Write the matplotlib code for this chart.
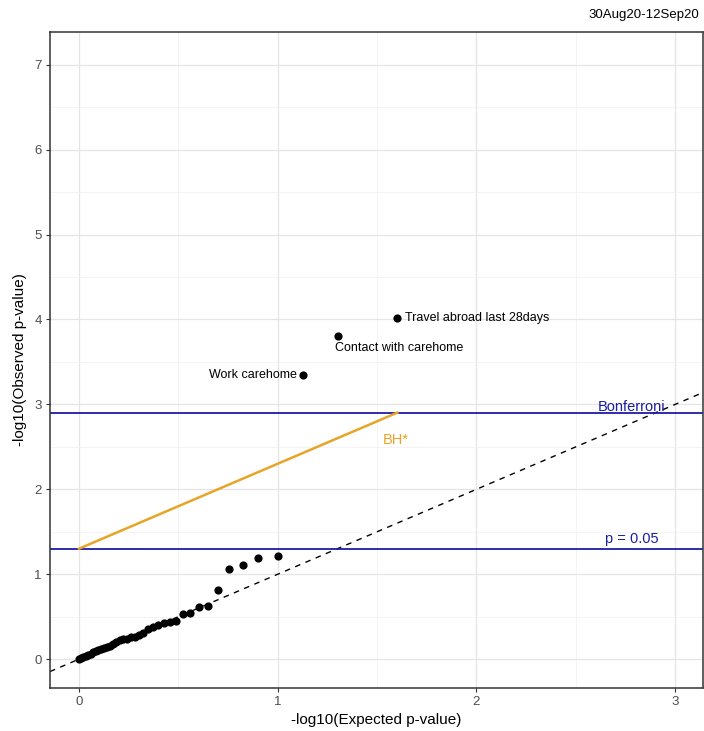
import numpy as np
import matplotlib.pyplot as plt

plt.rcParams['font.family'] = ['Liberation Sans', 'DejaVu Sans']

# observed -log10(p), sorted from largest to smallest (40 tests)
observed = [4.02, 3.80, 3.35, 1.21, 1.19, 1.11, 1.06, 0.82, 0.62, 0.61,
            0.54, 0.53, 0.45, 0.44, 0.43, 0.40, 0.38, 0.35, 0.31, 0.28,
            0.26, 0.26, 0.24, 0.235, 0.23, 0.20, 0.18, 0.155, 0.14, 0.13,
            0.12, 0.11, 0.10, 0.08, 0.06, 0.05, 0.04, 0.02, 0.01, 0.0]
point_labels = ["Travel abroad last 28days", "Contact with carehome", "Work carehome"]
period = "30Aug20-12Sep20"
alpha = 0.05

n = len(observed)
rank = np.arange(1, n + 1)
expected = -np.log10(rank / n)
bonf = -np.log10(alpha / n)
p05 = -np.log10(alpha)

blue = "#1c1ca6"
orange = "#e8a427"

fig = plt.figure(figsize=(7.04, 7.31), dpi=100)
ax = fig.add_axes([0.071, 0.0588, 0.9276, 0.8974])

ax.set_xlim(-0.146, 3.14)
ax.set_ylim(-0.34, 7.385)
ax.set_xticks([0, 1, 2, 3])
ax.set_yticks(range(0, 8))
ax.set_xticks(np.arange(0.5, 3.1, 1.0), minor=True)
ax.set_yticks(np.arange(0.5, 7.1, 1.0), minor=True)
ax.grid(True, which='major', color='#e5e5e5', lw=0.9)
ax.grid(True, which='minor', color='#f2f2f2', lw=0.6)
ax.set_axisbelow(True)
ax.tick_params(which='minor', length=0)
ax.tick_params(which='major', length=3, color='#333333', labelsize=9.5,
               labelcolor='#4d4d4d', pad=3)
for s in ax.spines.values():
    s.set_color('#333333')
    s.set_linewidth(1.1)

# y = x reference
ax.axline((0, 0), slope=1, color='black', ls=(0, (4, 4)), lw=1.0)

# thresholds
ax.axhline(bonf, color=blue, lw=1.3)
ax.axhline(p05, color=blue, lw=1.3)
bh_x = np.array([0, expected[0]])
ax.plot(bh_x, bh_x + p05, color=orange, lw=1.8)

ax.scatter(expected, observed, s=24, color='black', zorder=3)

ax.text(2.78, bonf - 0.02, "Bonferroni", color=blue, fontsize=10.5,
        ha='center', va='bottom')
ax.text(2.78, p05 + 0.03, "p = 0.05", color=blue, fontsize=10.5,
        ha='center', va='bottom')
ax.text(1.595, 2.58, "BH*", color=orange, fontsize=10.5, ha='center', va='center')

ax.text(expected[0] + 0.04, observed[0], point_labels[0], fontsize=9,
        ha='left', va='center')
ax.text(expected[1] - 0.015, observed[1] - 0.07, point_labels[1], fontsize=9,
        ha='left', va='top')
ax.text(expected[2] - 0.03, observed[2], point_labels[2], fontsize=9,
        ha='right', va='center')

ax.set_xlabel("-log10(Expected p-value)", fontsize=11, labelpad=3)
ax.set_ylabel("-log10(Observed p-value)", fontsize=11, labelpad=5)
fig.text(699 / 704, 1 - 15 / 731, period, fontsize=9.5, ha='right', va='center')

fig.savefig("out.png", dpi=100)
